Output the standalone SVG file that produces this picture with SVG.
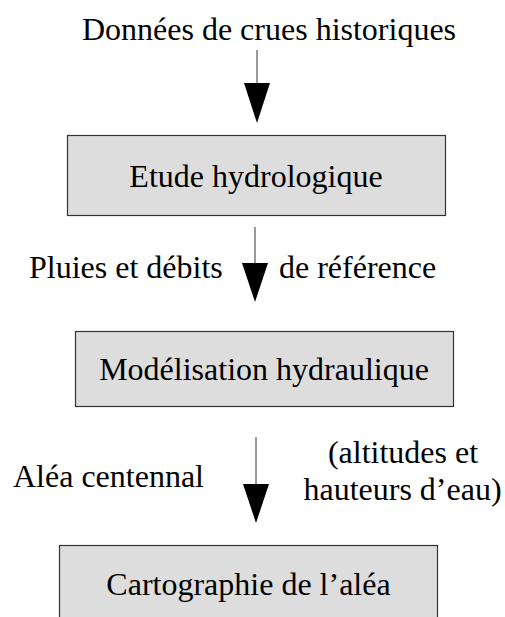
<svg xmlns="http://www.w3.org/2000/svg" width="505" height="617" viewBox="0 0 505 617">
<style>
text{font-family:'Liberation Serif','Times New Roman',serif;font-size:32px;fill:#000}
.box{fill:#dddddd;stroke:#333;stroke-width:1.2}
.ln{stroke:#333;stroke-width:1;fill:none}
.hd{fill:#000}
.c{text-anchor:middle}
</style>
<rect width="505" height="617" fill="#fff"/>
<g id="connectors">
<line class="ln" x1="257" y1="50" x2="257" y2="84"/>
<polygon class="hd" points="244,83 270,83 257,123"/>
<line class="ln" x1="255" y1="227" x2="255" y2="264"/>
<polygon class="hd" points="242,263 268,263 255,302"/>
<line class="ln" x1="256" y1="437" x2="256" y2="485"/>
<polygon class="hd" points="243,484 269,484 256,523"/>
</g>
<g id="label-top"><text class="c" x="269" y="40">Données de crues historiques</text></g>
<g id="node-etude"><rect class="box" x="67.5" y="135.5" width="378" height="80"/><text class="c" x="256" y="187">Etude hydrologique</text></g>
<g id="label-pluies"><text x="29" y="278">Pluies et débits</text><text x="279" y="278">de référence</text></g>
<g id="node-modelisation"><rect class="box" x="75.5" y="331.5" width="378" height="75"/><text class="c" x="264" y="380">Modélisation hydraulique</text></g>
<g id="label-alea"><text x="13" y="487">Aléa centennal</text><text class="c" x="403" y="463">(altitudes et</text><text class="c" x="402.5" y="500">hauteurs d’eau)</text></g>
<g id="node-cartographie"><rect class="box" x="59.5" y="545.5" width="378" height="80"/><text class="c" x="248.5" y="595">Cartographie de l’aléa</text></g>
</svg>
